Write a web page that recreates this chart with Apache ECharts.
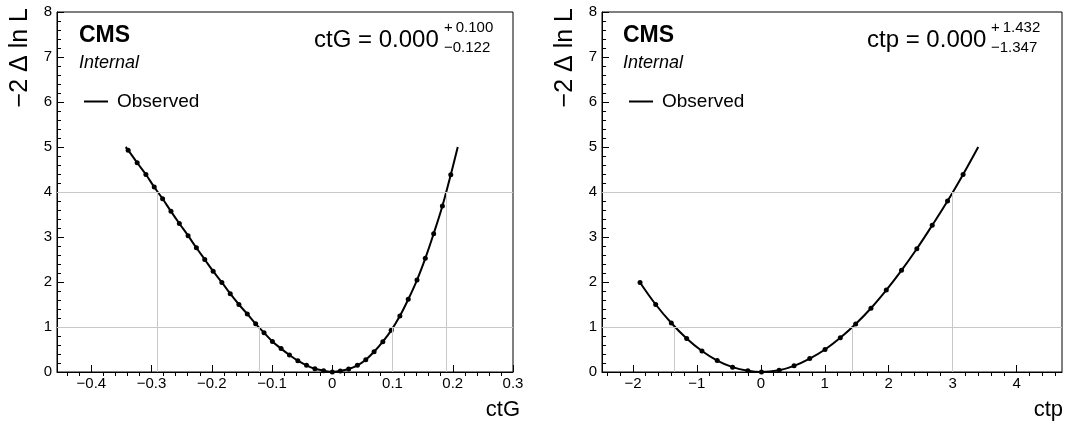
<!DOCTYPE html>
<html>
<head>
<meta charset="utf-8">
<script src="https://cdn.jsdelivr.net/npm/echarts@6/dist/echarts.min.js"></script>
<style>
html,body{margin:0;padding:0;background:#fff;}
#c{width:1072px;height:425px;}
</style>
</head>
<body>
<div id="c"></div>
<script>
// ---------------- data ----------------
// ctG scan points (x, -2ΔlnL)
var ctgX = [-0.3389,-0.3239,-0.3094,-0.2956,-0.2817,-0.2678,-0.2539,-0.2394,-0.2256,-0.2117,-0.1978,-0.1833,-0.1694,-0.1550,-0.1411,-0.1272,-0.1133,-0.0994,-0.0850,-0.0711,-0.0572,-0.0428,-0.0289,-0.0144,0.0000,0.0133,0.0272,0.0417,0.0556,0.0694,0.0839,0.0978,0.1122,0.1261,0.1406,0.1544,0.1683,0.1828,0.1967];
var ctgY = [4.93,4.65,4.39,4.11,3.85,3.57,3.30,3.03,2.76,2.50,2.24,1.99,1.74,1.50,1.29,1.07,0.874,0.68,0.52,0.378,0.252,0.148,0.074,0.030,0.0,0.025,0.065,0.148,0.274,0.45,0.674,0.926,1.244,1.615,2.044,2.526,3.074,3.689,4.385];
// where the drawn curve ends (no marker)
var ctgCurveStart = [-0.3430, 5.0];
var ctgCurveEnd = [0.2083, 5.0];
// ctp scan points
var ctpX = [-1.889,-1.644,-1.400,-1.160,-0.921,-0.682,-0.442,-0.203,0.010,0.286,0.520,0.765,1.004,1.243,1.483,1.722,1.962,2.200,2.440,2.680,2.920,3.163];
var ctpY = [1.99,1.50,1.088,0.744,0.466,0.254,0.108,0.027,0.0,0.040,0.137,0.298,0.50,0.76,1.066,1.417,1.82,2.26,2.74,3.26,3.80,4.39];
var ctpCurveEnd = [3.400, 5.0];

// best fit and intervals
var ctgBest = "0.000", ctgUp = "+\u20090.100", ctgDown = "\u22120.122";
var ctg1Sigma = [-0.122, 0.100];
var ctg2Sigma = [-0.290, 0.190];
var ctpBest = "0.000", ctpUp = "+\u20091.432", ctpDown = "\u22121.347";
var ctp1Sigma = [-1.347, 1.432];
var ctp2Sigma = [3.000];
var levels = [1, 4];

// axes
var ctgRange = [-0.457, 0.3];
var ctgMajor = [-0.4,-0.3,-0.2,-0.1,0,0.1,0.2,0.3];
var ctgMinorStep = 0.02;
var ctpRange = [-2.484, 4.71];
var ctpMajor = [-2,-1,0,1,2,3,4];
var ctpMinorStep = 0.2;
var yRange = [0, 8];

// ---------------- helpers ----------------
var FONT = "'Liberation Sans', Arial, Helvetica, sans-serif";
function fmtTick(v){
  var s = (Math.round(v*1000)/1000).toString();
  return s.replace('-', '\u2212');
}
function minorValues(range, step, majors){
  var out = [];
  var start = Math.ceil(range[0]/step - 1e-9);
  var end = Math.floor(range[1]/step + 1e-9);
  for (var i = start; i <= end; i++){
    var v = Math.round(i*step*1e6)/1e6;
    var isMajor = majors.some(function(m){ return Math.abs(m - v) < 1e-6; });
    if (!isMajor) out.push(v);
  }
  return out;
}
function zip(xs, ys){ return xs.map(function(x,i){ return [x, ys[i]]; }); }
function curveData(xs, ys, startPt, endPt){
  var d = zip(xs, ys);
  if (startPt) d.unshift({value: startPt, symbol: 'none'});
  if (endPt) d.push({value: endPt, symbol: 'none'});
  return d;
}
function refLines(sig1, sig2){
  var d = levels.map(function(l){ return {yAxis: l}; });
  sig1.forEach(function(x){ d.push([{coord:[x,0]},{coord:[x,levels[0]]}]); });
  sig2.forEach(function(x){ d.push([{coord:[x,0]},{coord:[x,levels[1]]}]); });
  return d;
}

var grids = [
  {left: 57, top: 12, width: 456, height: 360},
  {left: 602, top: 12, width: 460, height: 360}
];

function mainXAxis(idx, range, majors, name, gap){
  return {
    type: 'value', gridIndex: idx, min: range[0], max: range[1],
    name: name, nameLocation: 'end', nameGap: gap,
    nameTextStyle: {fontFamily: FONT, fontSize: 22, color: '#000', align: 'right', verticalAlign: 'top', padding: [27, 0, 0, 0]},
    axisLine: {show: true, onZero: false, lineStyle: {color: '#000', width: 1}},
    axisTick: {show: true, inside: true, length: 7, customValues: majors, lineStyle: {color: '#000'}},
    axisLabel: {show: true, customValues: majors, formatter: fmtTick, fontFamily: FONT, fontSize: 15, color: '#000', margin: 4},
    splitLine: {show: false}
  };
}
function minorXAxis(idx, range, step, majors){
  return {
    type: 'value', gridIndex: idx, min: range[0], max: range[1],
    axisLine: {show: false},
    axisTick: {show: true, inside: true, length: 4, customValues: minorValues(range, step, majors), lineStyle: {color: '#000'}},
    axisLabel: {show: false},
    splitLine: {show: false}
  };
}
function yAxis(idx){
  return {
    type: 'value', gridIndex: idx, min: yRange[0], max: yRange[1], interval: 1,
    name: '\u22122 \u0394 ln L', nameLocation: 'end', nameGap: 4, nameRotate: 90,
    nameTextStyle: {fontFamily: FONT, fontSize: 25, color: '#000', align: 'right', verticalAlign: 'bottom', padding: [0, 0, 24, 0]},
    axisLine: {show: true, onZero: false, lineStyle: {color: '#000', width: 1}},
    axisTick: {show: true, inside: true, length: 7, lineStyle: {color: '#000'}},
    minorTick: {show: true, splitNumber: 5, length: 4, lineStyle: {color: '#000'}},
    axisLabel: {fontFamily: FONT, fontSize: 15, color: '#000', margin: 5},
    splitLine: {show: false}
  };
}

function curveSeries(xi, yi, data){
  return {
    name: 'Observed', type: 'line', xAxisIndex: xi, yAxisIndex: yi,
    data: data, smooth: 0.4, symbol: 'circle', symbolSize: 5, showSymbol: true,
    lineStyle: {color: '#000', width: 2}, itemStyle: {color: '#000'},
    z: 3, silent: true, animation: false, clip: false
  };
}
function refSeries(xi, yi, lines){
  return {
    name: 'ref', type: 'line', xAxisIndex: xi, yAxisIndex: yi, data: [], z: 1,
    markLine: {silent: true, symbol: ['none','none'], label: {show: false},
      lineStyle: {color: '#c8c8c8', width: 1, type: 'solid'}, animation: false, data: lines}
  };
}

function texts(x0, varName, best, up, down, mainX, supX){
  return [
    {type:'text', left: x0, top: 24, style:{text:'CMS', font:'bold 23px ' + FONT, fill:'#000'}},
    {type:'text', left: x0, top: 54, style:{text:'Internal', font:'italic 18px ' + FONT, fill:'#000'}},
    {type:'text', left: mainX, top: 28, style:{text: varName + ' = ' + best, font:'24px ' + FONT, fill:'#000'}},
    {type:'text', left: supX, top: 20, style:{text: up, font:'15px ' + FONT, fill:'#000'}},
    {type:'text', left: supX, top: 40, style:{text: down, font:'15px ' + FONT, fill:'#000'}}
  ];
}

var legendBase = {
  data: ['Observed'], orient: 'vertical', icon: 'rect', itemWidth: 24, itemHeight: 2, padding: 0,
  textStyle: {fontFamily: FONT, fontSize: 19, color: '#000', padding: [0,0,0,4]},
  selectedMode: false
};

var option = {
  animation: false,
  backgroundColor: '#fff',
  grid: grids.map(function(g){ return Object.assign({show: true, borderColor: '#000', borderWidth: 1, backgroundColor: 'transparent'}, g); }),
  xAxis: [
    mainXAxis(0, ctgRange, ctgMajor, 'ctG', 7),
    minorXAxis(0, ctgRange, ctgMinorStep, ctgMajor),
    mainXAxis(1, ctpRange, ctpMajor, 'ctp', 1),
    minorXAxis(1, ctpRange, ctpMinorStep, ctpMajor)
  ],
  yAxis: [yAxis(0), yAxis(1)],
  legend: [
    Object.assign({left: 84, top: 92}, legendBase),
    Object.assign({left: 629, top: 92}, legendBase)
  ],
  graphic: texts(79, 'ctG', ctgBest, ctgUp, ctgDown, 314, 444)
    .concat(texts(623, 'ctp', ctpBest, ctpUp, ctpDown, 867, 991)),
  series: [
    refSeries(0, 0, refLines(ctg1Sigma, ctg2Sigma)),
    curveSeries(0, 0, curveData(ctgX, ctgY, ctgCurveStart, ctgCurveEnd)),
    refSeries(2, 1, refLines(ctp1Sigma, ctp2Sigma)),
    curveSeries(2, 1, curveData(ctpX, ctpY, null, ctpCurveEnd))
  ]
};

var chart = echarts.init(document.getElementById('c'), null, {renderer: 'canvas'});
chart.setOption(option);
</script>
</body>
</html>
